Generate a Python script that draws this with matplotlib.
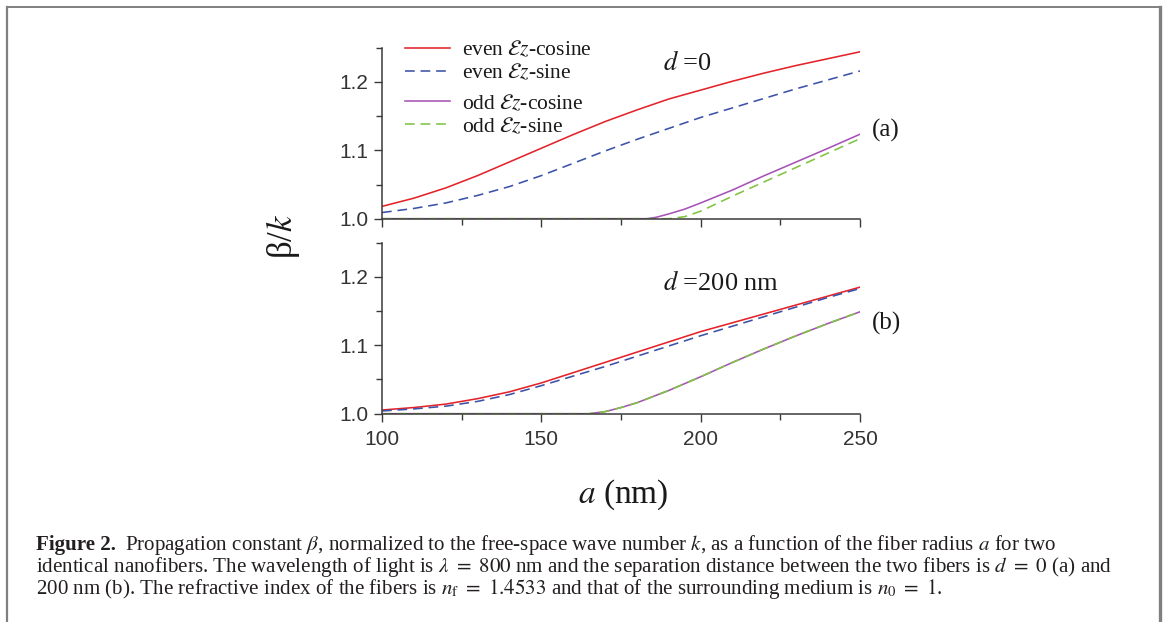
import matplotlib
matplotlib.use('Agg')
import matplotlib.pyplot as plt
from matplotlib.lines import Line2D
from matplotlib.ticker import MultipleLocator, FixedLocator

plt.rcParams['mathtext.fontset'] = 'stix'
plt.rcParams['lines.scale_dashes'] = False

# ---------------- data ----------------
a_nm = [100, 110, 120, 130, 140, 150, 160, 170, 180, 190, 200, 210, 220, 230, 240, 250]

# (a) d = 0
top_even_cos = [1.018, 1.030, 1.045, 1.063, 1.083, 1.103, 1.123, 1.142, 1.159, 1.175,
                1.188, 1.201, 1.213, 1.224, 1.234, 1.244]
top_even_sin = [1.009, 1.015, 1.023, 1.034, 1.047, 1.063, 1.081, 1.099, 1.116, 1.132,
                1.148, 1.162, 1.176, 1.190, 1.203, 1.216]
a_top_odd_cos = [100, 183, 186, 190, 195, 200, 210, 220, 230, 240, 250]
top_odd_cos = [1.0, 1.0, 1.002, 1.007, 1.014, 1.023, 1.042, 1.063, 1.083, 1.103, 1.1235]
a_top_odd_sin = [100, 190, 195, 200, 210, 220, 230, 240, 250]
top_odd_sin = [1.0, 1.0, 1.003, 1.011, 1.033, 1.054, 1.075, 1.096, 1.117]

# (b) d = 200 nm
bot_even_cos = [1.0054, 1.009, 1.014, 1.022, 1.032, 1.045, 1.060, 1.075, 1.090, 1.105,
                1.120, 1.133, 1.146, 1.159, 1.172, 1.185]
bot_even_sin = [1.004, 1.007, 1.011, 1.018, 1.028, 1.041, 1.055, 1.069, 1.084, 1.099,
                1.114, 1.128, 1.142, 1.156, 1.170, 1.183]
a_bot_odd = [100, 165, 170, 175, 180, 190, 200, 210, 220, 230, 240, 250]
bot_odd_cos = [1.0, 1.0, 1.003, 1.009, 1.016, 1.034, 1.054, 1.075, 1.095, 1.114, 1.132, 1.149]
bot_odd_sin = [1.0, 1.0, 1.003, 1.009, 1.016, 1.034, 1.054, 1.075, 1.095, 1.114, 1.132, 1.149]

labels = [r'even $\mathcal{E}z$-cosine', r'even $\mathcal{E}z$-sine',
          r'odd $\mathcal{E}z$-cosine', r'odd $\mathcal{E}z$-sine']
x_ticks = [100, 150, 200, 250]
y_ticks = [1.0, 1.1, 1.2]

# ---------------- styling ----------------
W, H = 1163, 622
fig = plt.figure(figsize=(W / 100, H / 100), dpi=100)

RED = '#e3232a'
BLUE = '#3b52a9'
PURPLE = '#a653b5'
GREEN = '#80c342'
AX_COL = '#3a3a3a'
LW = 1.15
DASH = (0, (7, 4.2))
SERIF = ['Liberation Serif', 'DejaVu Serif']
SANS = ['Liberation Sans', 'DejaVu Sans']


def style_axes(ax, show_xlabels):
    for s in ['top', 'right']:
        ax.spines[s].set_visible(False)
    for s in ['left', 'bottom']:
        ax.spines[s].set_color(AX_COL)
        ax.spines[s].set_linewidth(1.1)
    ax.set_xlim(100, 250)
    ax.set_ylim(1.0, 1.25)
    ax.xaxis.set_major_locator(FixedLocator(x_ticks))
    ax.xaxis.set_minor_locator(MultipleLocator(25))
    ax.yaxis.set_major_locator(FixedLocator(y_ticks))
    ax.yaxis.set_minor_locator(MultipleLocator(0.05))
    ax.tick_params(which='major', direction='out', length=6, width=1.0, color=AX_COL,
                   labelsize=15, labelcolor='#333333')
    ax.tick_params(which='minor', direction='out', length=4.5, width=1.0, color=AX_COL)
    ax.tick_params(axis='x', which='major', pad=5.5)
    ax.tick_params(axis='y', which='major', pad=4)
    ax.set_yticklabels([f'{v:.1f}' for v in y_ticks], family=SANS)
    if show_xlabels:
        ax.set_xticklabels([str(v) for v in x_ticks], family=SANS)
    else:
        ax.tick_params(axis='x', labelbottom=False)


ax1 = fig.add_axes([382 / W, 1 - 218.7 / H, 478 / W, 171 / H])
ax2 = fig.add_axes([382 / W, 1 - 413.7 / H, 478 / W, 171 / H])

# top panel
l1, = ax1.plot(a_nm, top_even_cos, color=RED, lw=LW)
l2, = ax1.plot(a_nm, top_even_sin, color=BLUE, lw=LW, linestyle=DASH)
l3, = ax1.plot(a_top_odd_cos, top_odd_cos, color=PURPLE, lw=LW)
l4, = ax1.plot(a_top_odd_sin, top_odd_sin, color=GREEN, lw=LW, linestyle=DASH)

# bottom panel
ax2.plot(a_nm, bot_even_cos, color=RED, lw=LW)
ax2.plot(a_nm, bot_even_sin, color=BLUE, lw=LW, linestyle=DASH)
ax2.plot(a_bot_odd, bot_odd_cos, color=PURPLE, lw=LW)
ax2.plot(a_bot_odd, bot_odd_sin, color=GREEN, lw=LW, linestyle=DASH)

style_axes(ax1, False)
style_axes(ax2, True)

leg_kw = dict(frameon=False, loc='center left', borderaxespad=0, borderpad=0,
              handlelength=2.1, handletextpad=0.55, labelspacing=0.12,
              prop={'family': SERIF, 'size': 15.5})
leg1 = ax1.legend([l1, l2], labels[:2], bbox_to_anchor=(0.048, 0.918), **leg_kw)
ax1.add_artist(leg1)
leg2 = ax1.legend([l3, l4], labels[2:], bbox_to_anchor=(0.048, 0.605), **leg_kw)
for leg in (leg1, leg2):
    for t in leg.get_texts():
        t.set_color('#1a1a1a')

ax1.text(188.2, 1.228, r'$d$ =0', family=SERIF, fontsize=19, va='center', ha='left',
         color='#1a1a1a')
ax2.text(188.2, 1.1908, r'$d$ =200 nm', family=SERIF, fontsize=19, va='center', ha='left',
         color='#1a1a1a')

fig.text(872 / W, 1 - 130 / H, '(a)', family=SERIF, fontsize=18, va='center', ha='left',
         color='#1a1a1a')
fig.text(872 / W, 1 - 323 / H, '(b)', family=SERIF, fontsize=18, va='center', ha='left',
         color='#1a1a1a')

fig.text(283 / W, 1 - 236 / H, r'β/$k$', family=SERIF, fontsize=25, rotation=90,
         va='center', ha='center', color='#1a1a1a')
fig.text(623 / W, 1 - 495 / H, r'$a$ (nm)', family=SERIF, fontsize=24,
         va='center', ha='center', color='#1a1a1a')

# ---------------- caption ----------------
cap_col = '#231f20'
renderer = fig.canvas.get_renderer()
lines_rest = [
    r'Propagation constant $\beta$, normalized to the free-space wave number $k$, as a function of the fiber radius $a$ for two',
    r'identical nanofibers. The wavelength of light is $\lambda\ =\ 800$ nm and the separation distance between the two fibers is $d\ =\ 0$ (a) and',
    r'200 nm (b). The refractive index of the fibers is $n_\mathrm{f}\ =\ 1.4533$ and that of the surrounding medium is $n_0\ =\ 1$.',
]
baselines = [550, 572, 594]
cap_fs = 14.5
probe = fig.text(36 / W, 0.5, lines_rest[1], family=SERIF, fontsize=cap_fs)
w = probe.get_window_extent(renderer).width
probe.remove()
cap_fs = cap_fs * 1077 / w

tb = fig.text(36 / W, 1 - baselines[0] / H, 'Figure 2.', family=SERIF, fontweight='bold',
              fontsize=cap_fs, va='baseline', ha='left', color=cap_col)
bb = tb.get_window_extent(renderer)
fig.text((bb.x1 + 9) / W, 1 - baselines[0] / H, lines_rest[0], family=SERIF,
         fontsize=cap_fs, va='baseline', ha='left', color=cap_col)
for txt, yb in zip(lines_rest[1:], baselines[1:]):
    fig.text(36 / W, 1 - yb / H, txt, family=SERIF, fontsize=cap_fs, va='baseline',
             ha='left', color=cap_col)

# ---------------- outer frame ----------------
FR = '#808080'
fig.add_artist(Line2D([7 / W, 7 / W], [0, 1 - 7 / H], transform=fig.transFigure,
                      color=FR, lw=1.6))
fig.add_artist(Line2D([7 / W, 1160 / W], [1 - 7 / H, 1 - 7 / H], transform=fig.transFigure,
                      color=FR, lw=1.4))
fig.add_artist(Line2D([1160 / W, 1160 / W], [0, 1 - 7 / H], transform=fig.transFigure,
                      color=FR, lw=2.4))

fig.savefig('out.png', dpi=100)
